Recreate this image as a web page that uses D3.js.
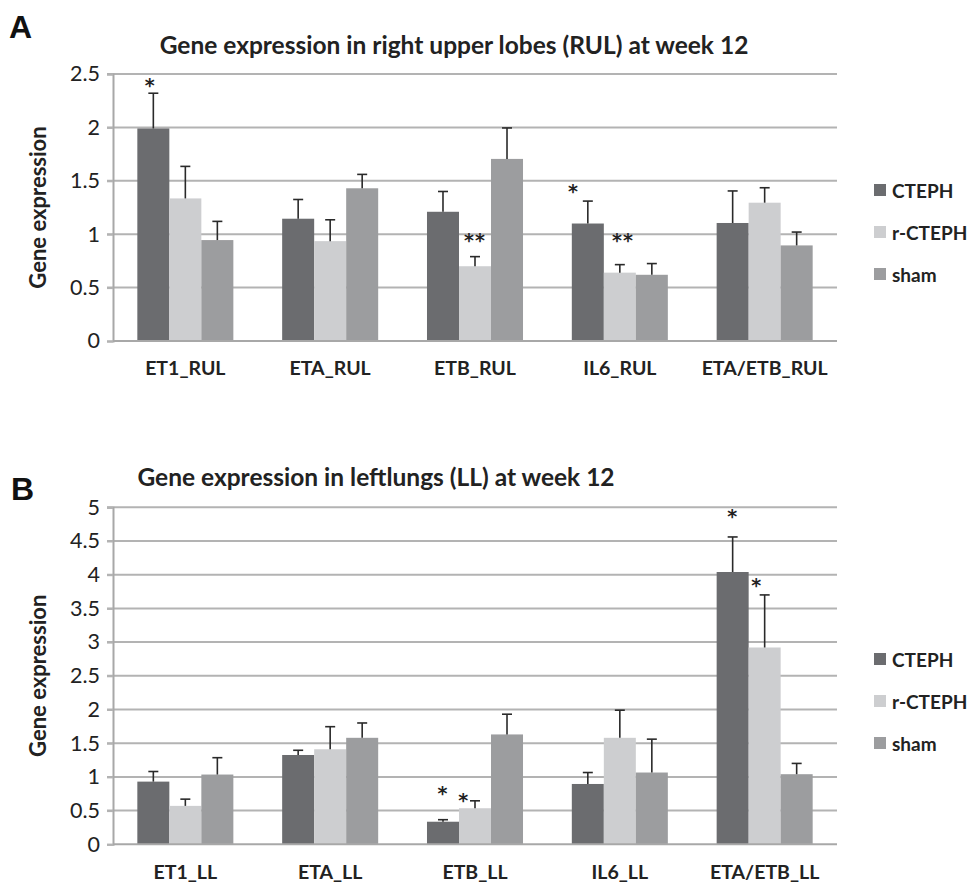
<!DOCTYPE html>
<html>
<head>
<meta charset="utf-8">
<script src="https://cdn.jsdelivr.net/npm/d3@7"></script>
<style>
  body { margin: 0; background: #fff; }
  svg { font-family: Lato, "Open Sans", sans-serif; }
</style>
</head>
<body>
<script>
// groups shown in both panels
const groups = ["CTEPH", "r-CTEPH", "sham"]
const groupColors = ["#6b6c6f", "#cdced0", "#9c9d9f"]

// panel A - right upper lobes
const catsA = ["ET1_RUL", "ETA_RUL", "ETB_RUL", "IL6_RUL", "ETA/ETB_RUL"]
const ctephA = [1.99, 1.145, 1.21, 1.10, 1.105]
const ctephErrA = [0.33, 0.18, 0.19, 0.21, 0.30]
const rctephA = [1.335, 0.935, 0.70, 0.64, 1.295]
const rctephErrA = [0.30, 0.20, 0.09, 0.075, 0.14]
const shamA = [0.945, 1.43, 1.705, 0.62, 0.895]
const shamErrA = [0.175, 0.13, 0.29, 0.105, 0.125]
const ticksA = [0, 0.5, 1, 1.5, 2, 2.5]
// significance marks: category, group, text, level (data units), shift in bar widths
const starsA = [
  { cat: 0, grp: 0, text: "*", at: 2.40, shift: -0.1 },
  { cat: 2, grp: 1, text: "**", at: 0.95, shift: 0 },
  { cat: 3, grp: 0, text: "*", at: 1.40, shift: -0.45 },
  { cat: 3, grp: 1, text: "**", at: 0.95, shift: 0.1 }
]

// panel B - left lungs
const catsB = ["ET1_LL", "ETA_LL", "ETB_LL", "IL6_LL", "ETA/ETB_LL"]
const ctephB = [0.93, 1.325, 0.335, 0.895, 4.04]
const ctephErrB = [0.15, 0.07, 0.03, 0.17, 0.52]
const rctephB = [0.57, 1.41, 0.535, 1.58, 2.92]
const rctephErrB = [0.10, 0.335, 0.11, 0.41, 0.78]
const shamB = [1.035, 1.58, 1.63, 1.065, 1.04]
const shamErrB = [0.25, 0.22, 0.30, 0.495, 0.16]
const ticksB = [0, 0.5, 1, 1.5, 2, 2.5, 3, 3.5, 4, 4.5, 5]
const starsB = [
  { cat: 2, grp: 0, text: "*", at: 0.76, shift: 0 },
  { cat: 2, grp: 1, text: "*", at: 0.65, shift: -0.35 },
  { cat: 4, grp: 0, text: "*", at: 4.87, shift: 0 },
  { cat: 4, grp: 1, text: "*", at: 3.85, shift: -0.25 }
]

const svg = d3.select("body").append("svg")
  .attr("width", 972)
  .attr("height", 883)

function panel(opt) {
  const left = 113, right = 837
  const x = d3.scaleBand().domain(opt.cats).range([left, right]).paddingInner(0.337).paddingOuter(0.168)
  const xg = d3.scaleBand().domain(groups).range([0, x.bandwidth()])
  const y = d3.scaleLinear().domain([0, opt.max]).range([opt.bottom, opt.top])

  const rows = []
  opt.cats.forEach((c, i) => {
    opt.series.forEach((s, j) => {
      rows.push({ cat: c, grp: groups[j], j: j, v: s[0][i], e: s[1][i] })
    })
  })

  const g = svg.append("g")

  // panel letter and title
  g.append("text").attr("x", opt.letterX).attr("y", opt.letterY)
    .attr("font-family", "'Liberation Sans', Arial, sans-serif")
    .attr("font-size", 32).attr("font-weight", 700).attr("fill", "#111")
    .text(opt.letter)
  g.append("text").attr("x", opt.titleX).attr("y", opt.titleY)
    .attr("font-size", 24.5).attr("font-weight", 700).attr("fill", "#222")
    .attr("text-anchor", "middle")
    .text(opt.title)

  // gridlines
  g.selectAll(".grid").data(opt.ticks.slice(1)).enter().append("line")
    .attr("x1", left - 6).attr("x2", right)
    .attr("y1", d => y(d)).attr("y2", d => y(d))
    .attr("stroke", "#b3b3b3").attr("stroke-width", 2)

  // y axis
  const ya = g.append("g").attr("transform", "translate(" + left + ",0)")
    .call(d3.axisLeft(y).tickValues(opt.ticks).tickSize(6).tickPadding(7).tickFormat(d3.format("")))
  ya.select(".domain").attr("stroke", "#a8a8a8").attr("stroke-width", 2)
  ya.selectAll(".tick line").attr("stroke", "#b3b3b3").attr("stroke-width", 2)
  ya.selectAll(".tick text").attr("font-size", 21.5).attr("fill", "#222")
    .attr("font-family", "Lato, sans-serif")

  g.append("text")
    .attr("transform", "translate(" + 46 + "," + ((opt.top + opt.bottom) / 2) + ") rotate(-90)")
    .attr("text-anchor", "middle")
    .attr("font-size", 22).attr("font-weight", 700).attr("fill", "#222")
    .text("Gene expression")

  // bars
  g.selectAll(".bar").data(rows).enter().append("rect")
    .attr("x", d => x(d.cat) + xg(d.grp))
    .attr("width", xg.bandwidth())
    .attr("y", d => y(d.v))
    .attr("height", d => y(0) - y(d.v))
    .attr("fill", d => groupColors[d.j])

  // error bars (upper only)
  const eb = g.selectAll(".err").data(rows).enter().append("g")
    .attr("stroke", "#2a2a2a").attr("stroke-width", 1.6)
  eb.append("line")
    .attr("x1", d => x(d.cat) + xg(d.grp) + xg.bandwidth() / 2)
    .attr("x2", d => x(d.cat) + xg(d.grp) + xg.bandwidth() / 2)
    .attr("y1", d => y(d.v)).attr("y2", d => y(d.v + d.e))
  eb.append("line")
    .attr("x1", d => x(d.cat) + xg(d.grp) + xg.bandwidth() / 2 - 5)
    .attr("x2", d => x(d.cat) + xg(d.grp) + xg.bandwidth() / 2 + 5)
    .attr("y1", d => y(d.v + d.e)).attr("y2", d => y(d.v + d.e))

  // x axis line
  g.append("line").attr("x1", left).attr("x2", right)
    .attr("y1", y(0)).attr("y2", y(0))
    .attr("stroke", "#a8a8a8").attr("stroke-width", 2)

  g.selectAll(".xl").data(opt.cats).enter().append("text")
    .attr("x", d => x(d) + x.bandwidth() / 2)
    .attr("y", opt.xLabelY)
    .attr("text-anchor", "middle").attr("dominant-baseline", "central")
    .attr("font-size", 19.5).attr("font-weight", 700).attr("fill", "#222")
    .text(d => d)

  // stars
  g.selectAll(".star").data(opt.stars).enter().append("text")
    .attr("x", d => x(opt.cats[d.cat]) + xg(groups[d.grp]) + xg.bandwidth() * (0.5 + d.shift))
    .attr("y", d => y(d.at) + 7)
    .attr("text-anchor", "middle")
    .attr("font-family", "'DejaVu Sans', sans-serif")
    .attr("font-size", 19).attr("font-weight", 700).attr("fill", "#222")
    .attr("letter-spacing", 1)
    .text(d => d.text)

  // legend
  const lg = g.selectAll(".leg").data(groups).enter().append("g")
    .attr("transform", (d, i) => "translate(874," + (opt.legendY + i * 42) + ")")
  lg.append("rect").attr("x", 0).attr("y", -6).attr("width", 12).attr("height", 12)
    .attr("fill", (d, i) => groupColors[i])
  lg.append("text").attr("x", 18).attr("y", 0).attr("dominant-baseline", "central")
    .attr("font-size", 19).attr("font-weight", 700).attr("fill", "#222")
    .text(d => d)
}

panel({
  letter: "A", letterX: 9, letterY: 38,
  title: "Gene expression in right upper lobes (RUL) at week 12", titleX: 454, titleY: 53.5,
  cats: catsA,
  series: [[ctephA, ctephErrA], [rctephA, rctephErrA], [shamA, shamErrA]],
  ticks: ticksA, max: 2.5, top: 74, bottom: 341,
  xLabelY: 367, stars: starsA, legendY: 190
})

panel({
  letter: "B", letterX: 11, letterY: 500,
  title: "Gene expression in leftlungs (LL) at week 12", titleX: 376, titleY: 486,
  cats: catsB,
  series: [[ctephB, ctephErrB], [rctephB, rctephErrB], [shamB, shamErrB]],
  ticks: ticksB, max: 5, top: 507.3, bottom: 844.3,
  xLabelY: 871, stars: starsB, legendY: 659
})
</script>
</body>
</html>
